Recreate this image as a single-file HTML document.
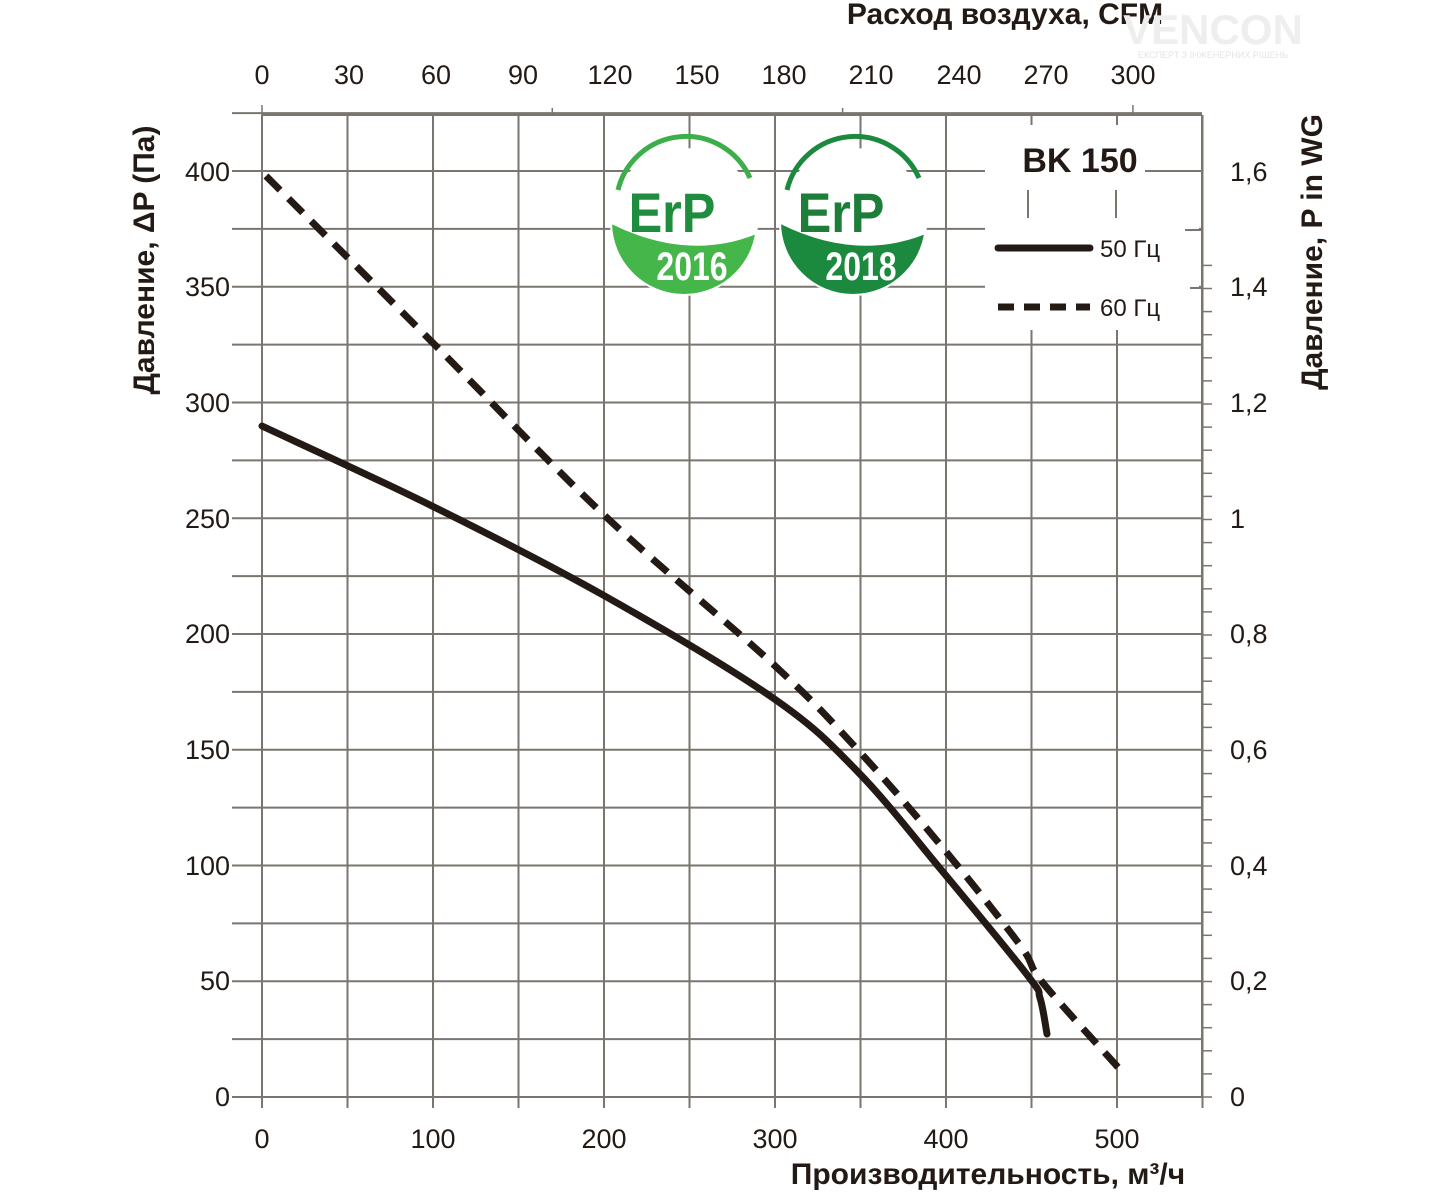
<!DOCTYPE html>
<html><head><meta charset="utf-8"><style>
body{margin:0;background:#fff}
svg text{font-family:"Liberation Sans","DejaVu Sans",sans-serif;fill:#231a15}
</style></head><body>
<svg width="1456" height="1191" viewBox="0 0 1456 1191" xmlns="http://www.w3.org/2000/svg">
<defs>
<clipPath id="c1"><circle cx="684" cy="222" r="72"/></clipPath>
<clipPath id="c2"><circle cx="853" cy="222" r="72"/></clipPath>
</defs>
<g id="grid" stroke="#7a756f" stroke-width="2"></g>
<rect x="985" y="125" width="214" height="205" fill="#fff"/>
<line x1="1028" y1="190" x2="1028" y2="218" stroke="#7a756f" stroke-width="2"/>
<line x1="1116" y1="190" x2="1116" y2="218" stroke="#7a756f" stroke-width="2"/>
<line x1="1145" y1="171" x2="1202" y2="171" stroke="#7a756f" stroke-width="2"/>
<line x1="1185" y1="230" x2="1202" y2="230" stroke="#7a756f" stroke-width="2"/>
<line x1="1190" y1="288" x2="1202" y2="288" stroke="#7a756f" stroke-width="2"/>
<text x="1080" y="172" font-size="34" font-weight="bold" text-anchor="middle">BK  150</text>
<line x1="998" y1="248" x2="1090" y2="248" stroke="#231a15" stroke-width="7" stroke-linecap="round"/>
<line x1="998" y1="307" x2="1090" y2="307" stroke="#231a15" stroke-width="7" stroke-dasharray="16 10"/>
<text x="1100" y="257" font-size="24">50 Гц</text>
<text x="1100" y="316" font-size="24">60 Гц</text>
<g>
<circle cx="684" cy="222" r="74" fill="#fff"/>
<path d="M618,190 A70,70 0 0 1 750,178" fill="none" stroke="#3cae4a" stroke-width="5"/>
<path d="M600,218 Q690,268 770,228 L770,310 L600,310Z" fill="#45b649" clip-path="url(#c1)"/>
<text x="672" y="232" font-size="56" font-weight="bold" text-anchor="middle" style="fill:#1e8e3e" transform="translate(672,0) scale(0.9,1) translate(-672,0)">ErP</text>
<text x="692" y="280" font-size="40" font-weight="bold" text-anchor="middle" style="fill:#fff" transform="translate(692,0) scale(0.8,1) translate(-692,0)">2016</text>
<circle cx="853" cy="222" r="74" fill="#fff"/>
<path d="M787,190 A70,70 0 0 1 919,178" fill="none" stroke="#1c8a3e" stroke-width="5"/>
<path d="M769,218 Q859,268 939,228 L939,310 L769,310Z" fill="#1c8a3e" clip-path="url(#c2)"/>
<text x="841" y="232" font-size="56" font-weight="bold" text-anchor="middle" style="fill:#1c7e39" transform="translate(841,0) scale(0.9,1) translate(-841,0)">ErP</text>
<text x="861" y="280" font-size="40" font-weight="bold" text-anchor="middle" style="fill:#fff" transform="translate(861,0) scale(0.8,1) translate(-861,0)">2018</text>
</g>
<path id="solid" fill="none" stroke="#231a15" stroke-width="7" stroke-linecap="round" stroke-linejoin="round"/>
<path id="dash" fill="none" stroke="#231a15" stroke-width="7" stroke-dasharray="20 12"/>
<g font-size="27" text-anchor="end">
<text x="230" y="1106">0</text><text x="230" y="990">50</text><text x="230" y="875">100</text><text x="230" y="759">150</text><text x="230" y="643">200</text><text x="230" y="528">250</text><text x="230" y="412">300</text><text x="230" y="296">350</text><text x="230" y="181">400</text>
</g>
<g font-size="27">
<text x="1230" y="1106">0</text><text x="1230" y="990">0,2</text><text x="1230" y="875">0,4</text><text x="1230" y="759">0,6</text><text x="1230" y="643">0,8</text><text x="1230" y="528">1</text><text x="1230" y="412">1,2</text><text x="1230" y="296">1,4</text><text x="1230" y="181">1,6</text>
</g>
<g font-size="27" text-anchor="middle">
<text x="262" y="1148">0</text><text x="433" y="1148">100</text><text x="604" y="1148">200</text><text x="775" y="1148">300</text><text x="946" y="1148">400</text><text x="1117" y="1148">500</text>
<text x="262" y="84">0</text><text x="349" y="84">30</text><text x="436" y="84">60</text><text x="523" y="84">90</text><text x="610" y="84">120</text><text x="697" y="84">150</text><text x="784" y="84">180</text><text x="871" y="84">210</text><text x="959" y="84">240</text><text x="1046" y="84">270</text><text x="1133" y="84">300</text>
</g>
<text x="1005" y="24" font-size="30" font-weight="bold" text-anchor="middle">Расход воздуха, CFM</text>
<text x="988" y="1184" font-size="30" font-weight="bold" text-anchor="middle">Производительность, м³/ч</text>
<text transform="translate(154,260) rotate(-90)" font-size="30" font-weight="bold" text-anchor="middle">Давление, ΔP (Па)</text>
<text transform="translate(1322,252) rotate(-90)" font-size="30" font-weight="bold" text-anchor="middle">Давление,  P in WG</text>
<text x="1213" y="44" font-size="42" font-weight="bold" text-anchor="middle" style="fill:#eeeeee">VENCON</text>
<text x="1213" y="58" font-size="9" text-anchor="middle" style="fill:#e4e4e4">ЕКСПЕРТ З ІНЖЕНЕРНИХ РІШЕНЬ</text>
</svg>
<script>
(function(){
var ns="http://www.w3.org/2000/svg",g=document.getElementById('grid');
function L(x1,y1,x2,y2,w){var l=document.createElementNS(ns,'line');l.setAttribute('x1',x1);l.setAttribute('y1',y1);l.setAttribute('x2',x2);l.setAttribute('y2',y2);if(w)l.setAttribute('stroke-width',w);g.appendChild(l);}
var X=function(v){return 262+1.71*v},Y=function(p){return 1097-2.315*p};
for(var v=0;v<=550;v+=50){L(X(v),115,X(v),1108);}
for(var p=0;p<=425;p+=25){L(232,Y(p),1202,Y(p));}
L(1202,115,1202,1097);L(262,115,1202,115);
for(var c=0;c<=320;c+=10){var x=262+29.03*c;if(x>1202)break;L(x,c%30==0?105:108,x,115,1.5);}
for(var i=0;i<=36;i++){var y=1097-23.1*i;if(y<115)break;L(1202,y,1212,y,1.5);}
function cr(P){var d="M"+P[0][0]+","+P[0][1];for(var i=0;i<P.length-1;i++){var p0=P[i-1]||P[i],p1=P[i],p2=P[i+1],p3=P[i+2]||p2;
d+=" C"+(p1[0]+(p2[0]-p0[0])/6)+","+(p1[1]+(p2[1]-p0[1])/6)+" "+(p2[0]-(p3[0]-p1[0])/6)+","+(p2[1]-(p3[1]-p1[1])/6)+" "+p2[0]+","+p2[1];}return d;}
document.getElementById('solid').setAttribute('d',cr([[262,426],[432,506],[603,595],[773,698],[858,772],[943,872],[1028,976],[1040,998],[1047,1034]]));
document.getElementById('dash').setAttribute('d',cr([[266,176],[432,342],[603,514],[773,664],[858,750],[943,848],[1020,945],[1043,983],[1125,1075]]));
})();
</script>
</body></html>
